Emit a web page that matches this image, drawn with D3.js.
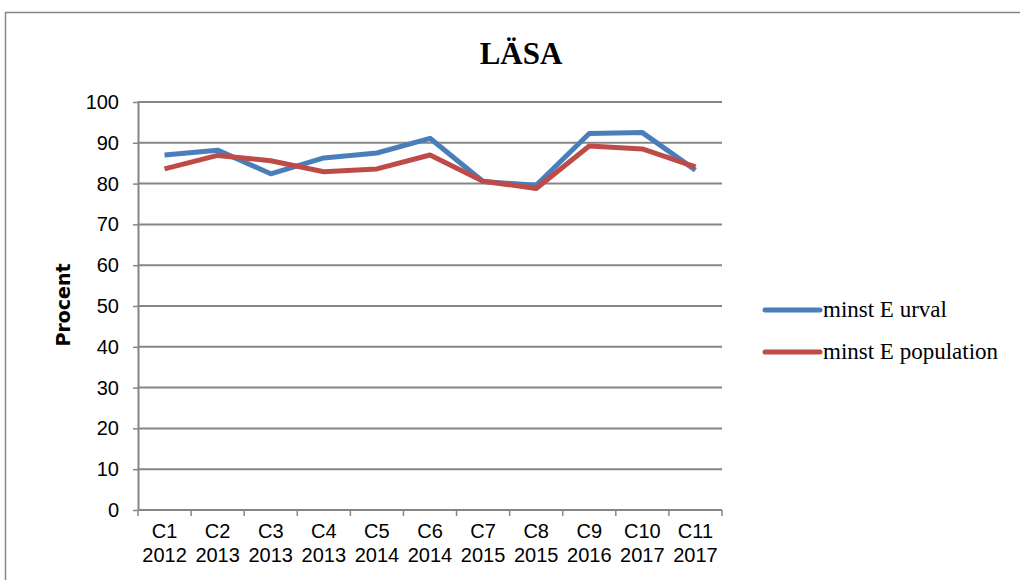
<!DOCTYPE html>
<html>
<head>
<meta charset="utf-8">
<script src="https://cdn.jsdelivr.net/npm/d3@7"></script>
<style>
  body { margin: 0; background: #fff; }
  svg { display: block; }
</style>
</head>
<body>
<div id="chart"></div>
<script>
// categories (two-line labels) and the two series
var kategorier = ["C1", "C2", "C3", "C4", "C5", "C6", "C7", "C8", "C9", "C10", "C11"];
var ar = ["2012", "2013", "2013", "2013", "2014", "2014", "2015", "2015", "2016", "2017", "2017"];
var urval = [87.0, 88.2, 82.4, 86.3, 87.5, 91.1, 80.5, 79.6, 92.3, 92.5, 83.3];
var population = [83.6, 86.9, 85.6, 82.9, 83.6, 87.0, 80.6, 78.8, 89.2, 88.5, 84.1];
var yTicks = [0, 10, 20, 30, 40, 50, 60, 70, 80, 90, 100];
var serier = [
  { namn: "minst E urval", varden: urval, farg: "#4a7ebb" },
  { namn: "minst E population", varden: population, farg: "#be4b48" }
];

var width = 1020, height = 580;
var grey = "#868686";
var sans = "Liberation Sans, Arial, sans-serif";
var serif = "Liberation Serif, Times New Roman, serif";

var svg = d3.select("#chart").append("svg")
  .attr("width", width)
  .attr("height", height);

// outer frame of the chart object
svg.append("rect")
  .attr("x", 5.5).attr("y", 12.5)
  .attr("width", 1100).attr("height", 700)
  .attr("fill", "none").attr("stroke", grey).attr("stroke-width", 1.5);

svg.append("text")
  .attr("x", 521).attr("y", 64)
  .attr("text-anchor", "middle")
  .attr("font-family", serif)
  .attr("font-weight", "bold").attr("font-size", 31)
  .text("LÄSA");

// plot area (don't call it "top", window.top is taken)
var pl = { left: 138, right: 722, top: 102, bottom: 510 };

var x = d3.scaleBand().domain(kategorier).range([pl.left, pl.right]);
var y = d3.scaleLinear().domain([0, 100]).range([pl.bottom, pl.top]);

// gridlines
svg.append("g").selectAll("line")
  .data(yTicks.filter(function(d) { return d > 0; }))
  .enter().append("line")
  .attr("x1", pl.left).attr("x2", pl.right)
  .attr("y1", function(d) { return y(d); })
  .attr("y2", function(d) { return y(d); })
  .attr("stroke", grey).attr("stroke-width", 2);

// y axis
var yAxis = svg.append("g")
  .attr("transform", "translate(" + pl.left + ",0)")
  .call(d3.axisLeft(y).tickValues(yTicks).tickSize(5).tickPadding(14).tickSizeOuter(0));
yAxis.select(".domain").attr("stroke", grey).attr("stroke-width", 2);
yAxis.selectAll(".tick line").attr("stroke", grey).attr("stroke-width", 1.5);
yAxis.selectAll(".tick text")
  .attr("font-family", sans)
  .attr("font-size", 20).attr("fill", "#000");

// x axis, ticks at band edges
var xAxis = svg.append("g")
  .attr("transform", "translate(0," + pl.bottom + ")");
xAxis.append("line")
  .attr("x1", pl.left).attr("x2", pl.right)
  .attr("stroke", grey).attr("stroke-width", 2);
xAxis.selectAll(".kant")
  .data(kategorier.concat(["slut"]))
  .enter().append("line")
  .attr("class", "kant")
  .attr("x1", function(d, i) { return pl.left + i * x.bandwidth(); })
  .attr("x2", function(d, i) { return pl.left + i * x.bandwidth(); })
  .attr("y1", 0).attr("y2", 6)
  .attr("stroke", grey).attr("stroke-width", 1.5);
var lbl = xAxis.selectAll(".lbl")
  .data(kategorier)
  .enter().append("text")
  .attr("class", "lbl")
  .attr("text-anchor", "middle")
  .attr("font-family", sans)
  .attr("font-size", 20);
lbl.append("tspan")
  .attr("x", function(d) { return x(d) + x.bandwidth() / 2; })
  .attr("y", 28)
  .text(function(d) { return d; });
lbl.append("tspan")
  .attr("x", function(d) { return x(d) + x.bandwidth() / 2; })
  .attr("y", 52)
  .text(function(d, i) { return ar[i]; });

svg.append("text")
  .attr("transform", "translate(70,305) rotate(-90)")
  .attr("text-anchor", "middle")
  .attr("font-family", "DejaVu Sans, sans-serif")
  .attr("font-weight", "bold").attr("font-size", 19)
  .text("Procent");

// lines
var line = d3.line()
  .x(function(d, i) { return x(kategorier[i]) + x.bandwidth() / 2; })
  .y(function(d) { return y(d); });

svg.append("g").selectAll("path")
  .data(serier)
  .enter().append("path")
  .attr("d", function(s) { return line(s.varden); })
  .attr("fill", "none")
  .attr("stroke", function(s) { return s.farg; })
  .attr("stroke-width", 5)
  .attr("stroke-linejoin", "round");

// legend
var leg = svg.append("g").selectAll("g")
  .data(serier)
  .enter().append("g")
  .attr("transform", function(d, i) { return "translate(765," + (310 + i * 42) + ")"; });
leg.append("line")
  .attr("x1", 0).attr("x2", 55)
  .attr("stroke", function(d) { return d.farg; })
  .attr("stroke-width", 5).attr("stroke-linecap", "round");
leg.append("text")
  .attr("x", 58).attr("y", 7)
  .attr("font-family", serif)
  .attr("font-size", 23)
  .text(function(d) { return d.namn; });
</script>
</body>
</html>
